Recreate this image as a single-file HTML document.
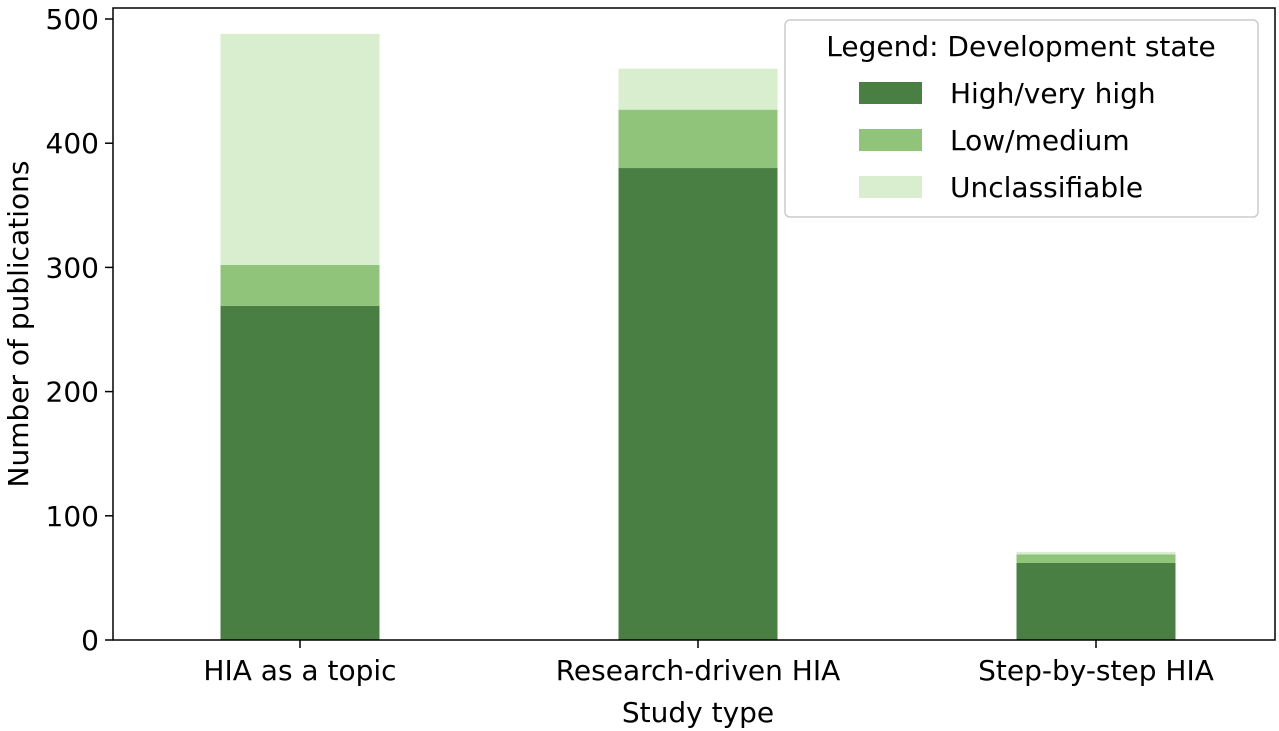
<!DOCTYPE html>
<html><head><meta charset="utf-8"><style>
body{margin:0;background:#fff;}
svg{display:block;font-family:"DejaVu Sans","Liberation Sans",sans-serif;}
</style></head><body>
<svg id="chart" width="1279" height="731" viewBox="0 0 1279 731"></svg>
<script>
const categories = ["HIA as a topic", "Research-driven HIA", "Step-by-step HIA"];
const highValues = [269, 380, 62];
const lowValues = [33, 47, 7];
const unclValues = [186, 33, 2];
const yTicks = [0, 100, 200, 300, 400, 500];
const seriesNames = ["High/very high", "Low/medium", "Unclassifiable"];

const NS = "http://www.w3.org/2000/svg";
const svg = document.getElementById("chart");
const L = 113, R = 1275, T = 8, B = 640;
function y(v){ return B - v * 1.242; }
function xc(i){ return 300 + i * 398; }
const bw = 159;
const colors = ["#4a7f44", "#90c47b", "#d9edcf"];
function mk(tag, attrs, parent){
  const e = document.createElementNS(NS, tag);
  for (const k in attrs) e.setAttribute(k, attrs[k]);
  (parent || svg).appendChild(e);
  return e;
}
const series = [highValues, lowValues, unclValues];
categories.forEach((c, i) => {
  let base = 0;
  series.forEach((s, si) => {
    const r = mk("rect", {x: xc(i) - bw/2, y: y(base + s[i]), width: bw, height: y(base) - y(base + s[i]), fill: colors[si]});
    
    
    base += s[i];
  });
  const tk = mk("line", {x1: xc(i), x2: xc(i), y1: B, y2: B + 8, stroke: "#000", "stroke-width": 1.5});
  
  
  const t = mk("text", {x: xc(i), y: 680, "text-anchor": "middle", "font-size": 28});
  t.textContent = c;
  
  
});
yTicks.forEach(v => {
  const tk = mk("line", {x1: L - 8, x2: L, y1: y(v), y2: y(v), stroke: "#000", "stroke-width": 1.5});
  
  
  const t = mk("text", {x: L - 14, y: y(v) + 10, "text-anchor": "end", "font-size": 28});
  t.textContent = v;
  
  
});
const frame = mk("rect", {x: L, y: T, width: R - L, height: B - T, fill: "none", stroke: "#000", "stroke-width": 1.5});


const xt = mk("text", {x: 698, y: 722, "text-anchor": "middle", "font-size": 28});
xt.textContent = "Study type";


const yt = mk("text", {x: 0, y: 0, "text-anchor": "middle", "font-size": 28, transform: "translate(28,324) rotate(-90)"});
yt.textContent = "Number of publications";


const lg = mk("g", {});


mk("rect", {x: 785, y: 20, width: 473, height: 197, rx: 5, fill: "#fff", "fill-opacity": 0.85, stroke: "#ccc", "stroke-width": 1.5}, lg);
const lt = mk("text", {x: 1021, y: 56, "text-anchor": "middle", "font-size": 28}, lg);
lt.textContent = "Legend: Development state";


seriesNames.forEach((n, i) => {
  const sw = mk("rect", {x: 859, y: 82 + i * 47, width: 63, height: 22, fill: colors[i]}, lg);
  
  
  const t = mk("text", {x: 950, y: 103 + i * 47, "font-size": 28}, lg);
  t.textContent = n;
  
  
});
</script>
</body></html>
